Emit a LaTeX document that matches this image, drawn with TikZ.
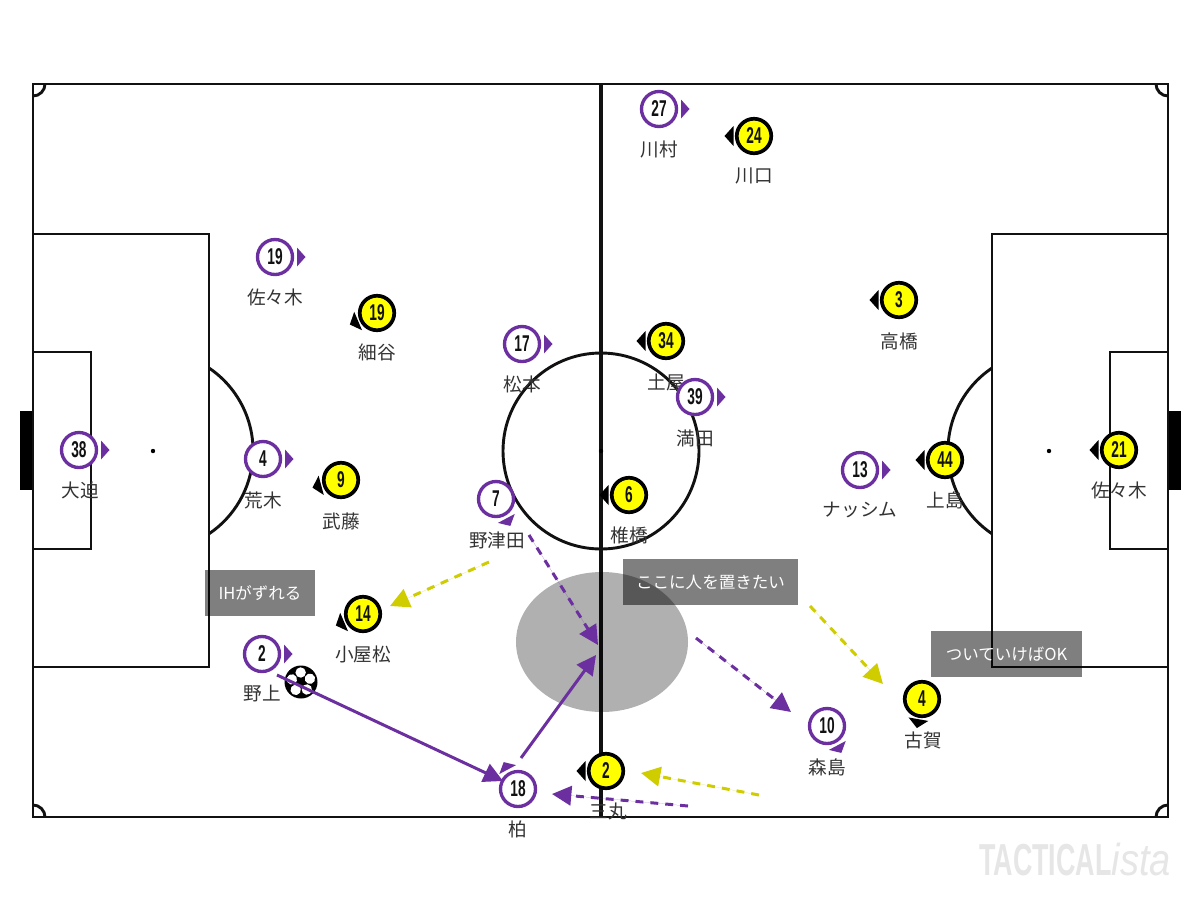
\documentclass[tikz,border=0pt]{standalone}
\usepackage{fontspec}
\setmainfont{Noto Sans CJK JP}
\newfontfamily\numfont[FakeStretch=0.6]{Liberation Sans}
\newfontfamily\istafont[FakeStretch=0.85]{Liberation Sans}
\usetikzlibrary{arrows.meta}
\definecolor{ink}     {HTML}{111111}
\definecolor{purp}    {HTML}{6B2FA0}
\definecolor{yell}    {HTML}{FFFF00}
\definecolor{yarrow}  {HTML}{CFCD00}
\definecolor{inkgray} {HTML}{333333}
\definecolor{wmark}   {HTML}{E6E6E6}
\tikzset{
  line/.style     ={draw=ink, line width=1.65pt},
  ppl/.style      ={circle, draw=purp, fill=white, line width=1.9pt, inner sep=0pt,
                    minimum size=0.7cm, font=\numfont\bfseries\fontsize{13}{13}\selectfont, text=ink},
  ypl/.style      ={circle, draw=black, fill=yell, line width=2.1pt, inner sep=0pt,
                    minimum size=0.69cm, font=\numfont\bfseries\fontsize{13}{13}\selectfont, text=ink},
  plabel/.style   ={font=\fontsize{10.6}{11}\selectfont, text=inkgray, inner sep=0pt},
  greybox/.style  ={fill=black, fill opacity=0.5, text opacity=1, text=white, inner sep=0pt,
                    font=\fontsize{9.4}{10}\selectfont, align=center},
  parr/.style     ={-{Triangle[length=11pt,width=11pt]}, line width=1.7pt, draw=purp, fill=purp},
  parrd/.style    ={parr, dash pattern=on 4.5pt off 4pt},
  yarrd/.style    ={-{Triangle[length=11pt,width=11pt]}, line width=1.7pt, draw=yarrow, fill=yarrow,
                    dash pattern=on 4.5pt off 4pt},
}

\begin{document}
\begin{tikzpicture}[x=0.02cm,y=-0.02cm]
  \useasboundingbox (0,0) rectangle (1200,900);
  \fill[white] (0,0) rectangle (1200,900);

  % pitch
  \fill[black] (20,411) rectangle (33,490);
  \fill[black] (1168,411) rectangle (1181,490);
  \draw[line] (33,84) rectangle (1168,817);
  \draw[line,line width=2pt] (601,84) -- (601,817);
  \draw[line] (601,451) circle (98);
  \draw[line] (33,234) -| (209,667) -- (33,667);
  \draw[line] (33,352) -| (91,549) -- (33,549);
  \draw[line] (1168,234) -| (992,667) -- (1168,667);
  \draw[line] (1168,352) -| (1110,549) -- (1168,549);
  \draw[line] (209,368) arc[start angle=-56,end angle=56,radius=100];
  \draw[line] (992,368) arc[start angle=236,end angle=124,radius=100];
  \foreach \x in {153,601,1049} \fill[black] (\x,451) circle (2.2);
  \draw[line] (45,84) arc[start angle=0,end angle=90,radius=12];
  \draw[line] (1156,84) arc[start angle=180,end angle=90,radius=12];
  \draw[line] (45,817) arc[start angle=0,end angle=-90,radius=12];
  \draw[line] (1156,817) arc[start angle=180,end angle=270,radius=12];

  % space and notes
  \fill[black,opacity=0.31] (602,642) ellipse (86 and 70);
  \node[greybox,minimum width=2.2cm,minimum height=0.92cm] (ihnote) at (260,593) {IHがずれる};
  \node[greybox,minimum width=3.5cm,minimum height=0.92cm] (spacenote) at (710.5,582) {ここに人を置きたい};
  \node[greybox,minimum width=3.02cm,minimum height=0.92cm] (oknote) at (1006.5,654) {ついていけばOK};

  % labels first, the markers sit above them
  \foreach \nm/\x/\y/\nam in {
    p38/80/490/大迫, p19/275/297/佐々木, p4/263/500/荒木, p2/262/694/野上,
    p17/522/384/松本, p7/497/540/野津田, p18/518/829/柏, p27/659/149/川村,
    p39/695/438/満田, p13/860/510/ナッシム, p10/827/767/森島,
    y24/754/176/川口, y19/377/352/細谷, y34/666/382/土屋, y3/899/341/高橋,
    y9/341/521/武藤, y44/945/500/上島, y21/1119/490/佐々木, y6/629/535/椎橋,
    y14/363/654/小屋松, y4/923/740/古賀, y2/608/811/三丸}
    \node[plabel] (l\nm) at (\x,\y) {\nam};

  % purple side
  \foreach \nm/\x/\y/\num/\ang in {
    p38/79/450/38/0, p19/275/257/19/0, p4/263/459/4/0, p2/262/654/2/0,
    p17/522/344/17/0, p7/496/499/7/-62, p18/518/789/18/118, p27/659/109/27/0,
    p39/695/397/39/0, p13/860/470/13/0, p10/827/726/10/-62} {
    \node[ppl] (\nm) at (\x,\y) {\num};
    \fill[purp,shift={(\nm.center)},rotate=\ang]
      (22,-9.5) -- (22,9.5) -- (30.5,0) -- cycle;
  }

  % yellow side
  \foreach \nm/\x/\y/\num/\ang in {
    y24/754/136/24/180, y19/377/313/19/203, y34/666/341/34/180, y3/899/300/3/180,
    y9/341/480/9/195, y44/945/460/44/180, y21/1119/450/21/180, y6/629/495/6/180,
    y14/363/614/14/203, y4/922/699/4/-100, y2/606/771/2/180} {
    \node[ypl] (\nm) at (\x,\y) {\num};
    \fill[black,shift={(\nm.center)},rotate=\ang]
      (20.5,-10) -- (20.5,10) -- (29.5,0) -- cycle;
  }

  % ball
  \node[circle,fill=black,minimum size=0.66cm,inner sep=0pt] (ball) at (301,682) {};
  \foreach \a in {20,92,164,236,308}
    \fill[white,shift={(ball.center)},rotate=\a] (9.5,0) circle (5.2);

  % runs and passes
  \coordinate (passa) at (277,675);
  \coordinate (passb) at (503,781);
  \coordinate (passc) at (521,758);
  \coordinate (passd) at (596,655);
  \coordinate (runa) at (529,535);
  \coordinate (runb) at (598,645);
  \coordinate (runc) at (696,638);
  \coordinate (rund) at (791,712);
  \coordinate (rune) at (688,806);
  \coordinate (runf) at (552,794);
  \coordinate (shifta) at (489,562);
  \coordinate (shiftb) at (390,606);
  \coordinate (shiftc) at (810,606);
  \coordinate (shiftd) at (883,684);
  \coordinate (shifte) at (759,795);
  \coordinate (shiftf) at (641,773);
  \draw[parr] (passa) -- (passb);
  \draw[parr] (passc) -- (passd);
  \draw[parrd] (runa) -- (runb);
  \draw[parrd] (runc) -- (rund);
  \draw[parrd] (rune) -- (runf);
  \draw[yarrd] (shifta) -- (shiftb);
  \draw[yarrd] (shiftc) -- (shiftd);
  \draw[yarrd] (shifte) -- (shiftf);

  % logo
  \node[inner sep=0pt,text=wmark,font=\numfont\bfseries\fontsize{25.5}{25.5}\selectfont] (logo) at (1075,859)
    {TACTICAL{\istafont\mdseries\itshape ista}};
\end{tikzpicture}
\end{document}
